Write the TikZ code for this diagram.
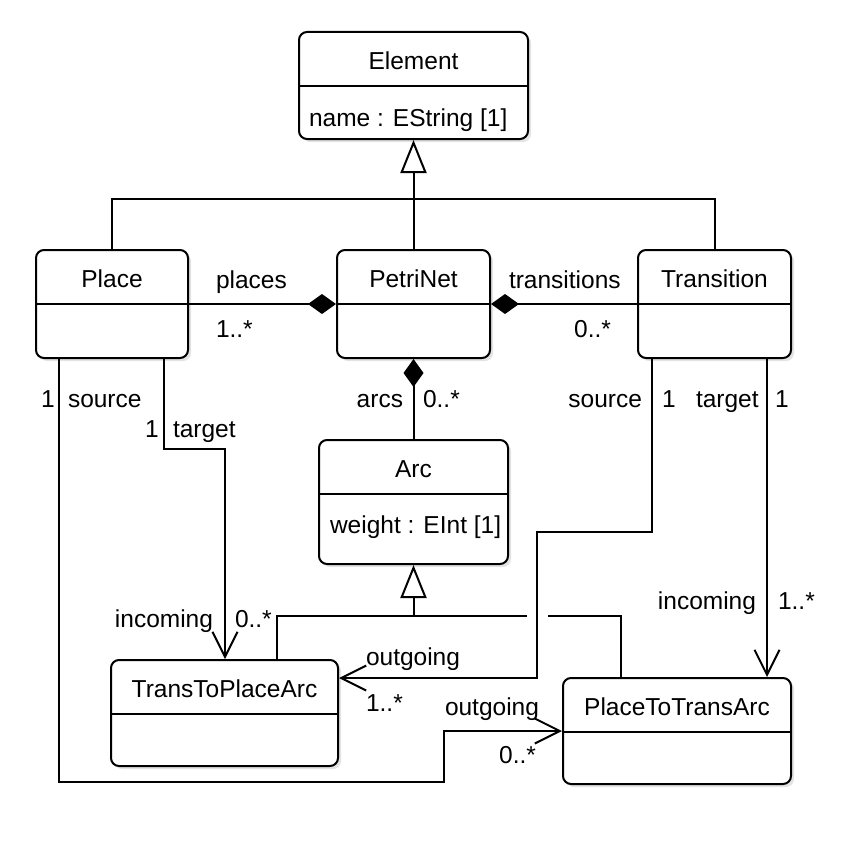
\documentclass[tikz,border=0pt]{standalone}
\usepackage{fontspec}
\setmainfont{Liberation Sans}
\usetikzlibrary{arrows.meta,shadows}

\begin{document}
\begin{tikzpicture}[x=1pt,y=-1pt,line width=2pt,
	font=\fontsize{24.5}{29}\selectfont,
	class/.style={draw,rounded corners=8pt,fill=white,inner sep=0pt,
		drop shadow={shadow xshift=3pt,shadow yshift=-3pt,opacity=0.22}},
	lbl/.style={inner sep=0pt},
	gen/.style={-{Triangle[open,fill=white,length=33pt,width=26pt]}},
	comp/.style={{Diamond[length=28pt,width=20pt]}-},
	nav/.style={-{Straight Barb[length=25pt,width=25pt]}}]
	\useasboundingbox (0,0) rectangle (850,843);

	% classes: name/centre x/top/width/height/title
	\foreach \n/\x/\t/\w/\h/\title [evaluate=\t as \d using \t+55] in {
		element/413.5/31/229/107/Element,
		place/112/249/152/108/Place,
		petrinet/413.5/249/153/108/PetriNet,
		transition/714.5/249/153/108/Transition,
		arc/413.5/439/189/124/Arc,
		ttp/224.5/659/227/106/TransToPlaceArc,
		ptt/677/677/228/106/PlaceToTransArc}{
		\node[class,anchor=north,minimum width=\w pt,minimum height=\h pt] (\n) at (\x,\t) {};
		\node[lbl,anchor=base] (\n-title) at (\x,\t+38) {\title};
		\draw (\n.west |- 0,\d) -- (\n.east |- 0,\d);
	}
	\node[lbl,anchor=base west] (element-attr) at (308,126) {name : EString [1]};
	\node[lbl,anchor=base west] (arc-attr) at (329,533) {weight : EInt [1]};

	% generalisations
	\coordinate (elembus) at (413.5,199);
	\draw (place.north) -- (place.north |- elembus) -- (transition.north |- elembus) -- (transition.north);
	\draw[gen] (petrinet.north) -- (element.south);

	\coordinate (arcbus) at (413.5,616);
	\coordinate (jumpL) at (527,616);
	\coordinate (jumpR) at (548,616);
	\draw[gen] (arcbus) -- (arc.south);
	\draw (ttp.north -| 277,0) |- (jumpL);
	\draw (ptt.north -| 621,0) |- (jumpR);

	% compositions
	\draw[comp] (petrinet.west |- 0,304) -- (place.east |- 0,304);
	\draw[comp] (petrinet.east |- 0,304) -- (transition.west |- 0,304);
	\draw[comp] (petrinet.south) -- (arc.north);

	\node[lbl,anchor=base west] (places-role) at (215,288) {places};
	\node[lbl,anchor=base west] (places-mult) at (215,337) {1..*};
	\node[lbl,anchor=base west] (trans-role) at (508,288) {transitions};
	\node[lbl,anchor=base east] (trans-mult) at (612,337) {0..*};
	\node[lbl,anchor=base east] (arcs-role) at (404,407) {arcs};
	\node[lbl,anchor=base west] (arcs-mult) at (422,407) {0..*};

	% references
	\coordinate (psrc1) at (444,782);
	\coordinate (ptgt1) at (225,449);
	\coordinate (tsrc1) at (537,532);
	\draw[nav] (place.south -| 59,0) |- (psrc1) |- (ptt.west |- 0,731);
	\draw[nav] (place.south -| 164,0) |- (ptgt1) -- (ttp.north -| ptgt1);
	\draw[nav] (transition.south -| 652,0) |- (tsrc1) |- (ttp.east |- 0,678);
	\draw[nav] (transition.south -| 767,0) -- (ptt.north -| 767,0);

	\node[lbl,anchor=base west] (psrc-mult) at (40,407) {1};
	\node[lbl,anchor=base west] (psrc-role) at (67,407) {source};
	\node[lbl,anchor=base west] (ptgt-mult) at (144,437) {1};
	\node[lbl,anchor=base west] (ptgt-role) at (172,437) {target};
	\node[lbl,anchor=base east] (tsrc-role) at (643,407) {source};
	\node[lbl,anchor=base west] (tsrc-mult) at (661,407) {1};
	\node[lbl,anchor=base west] (ttgt-role) at (695,407) {target};
	\node[lbl,anchor=base west] (ttgt-mult) at (774,407) {1};

	\node[lbl,anchor=base east] (ttp-in-role) at (214,627) {incoming};
	\node[lbl,anchor=base west] (ttp-in-mult) at (234,627) {0..*};
	\node[lbl,anchor=base west] (ttp-out-role) at (365,665) {outgoing};
	\node[lbl,anchor=base west] (ttp-out-mult) at (365,711) {1..*};
	\node[lbl,anchor=base east] (ptt-out-role) at (540,715) {outgoing};
	\node[lbl,anchor=base east] (ptt-out-mult) at (537,763) {0..*};
	\node[lbl,anchor=base east] (ptt-in-role) at (757,609) {incoming};
	\node[lbl,anchor=base west] (ptt-in-mult) at (777,609) {1..*};
\end{tikzpicture}
\end{document}
